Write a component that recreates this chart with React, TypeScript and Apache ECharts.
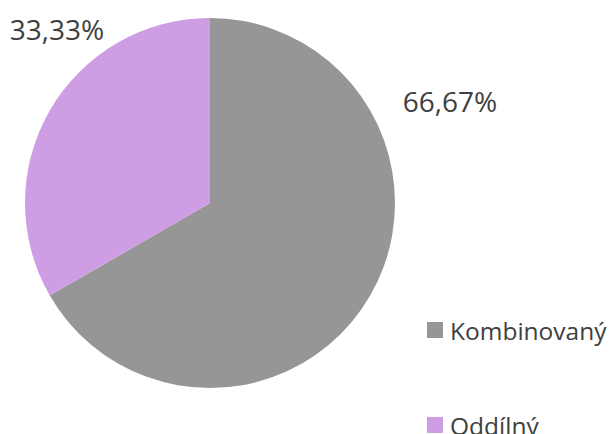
import React, { useEffect, useRef } from "react";
import * as echarts from "echarts";

const categories = ["Kombinovaný", "Oddílný"];
const values = [66.67, 33.33];
const colors = ["#969696", "#CF9DE3"];
const labelPositions = [
  { x: 450, y: 101 },
  { x: 57, y: 29 },
];
const legendTops = [315, 410];

export default function App() {
  const ref = useRef<HTMLDivElement>(null);
  useEffect(() => {
    document.body.style.margin = "0";
    if (!ref.current) return;
    const chart = echarts.init(ref.current, null, { renderer: "svg" });
    chart.setOption({
      animation: false,
      backgroundColor: "#ffffff",
      legend: categories.map((name, i) => ({
        orient: "vertical",
        left: 427,
        top: legendTops[i],
        icon: "rect",
        itemWidth: 16,
        itemHeight: 16,
        data: [name],
        textStyle: {
          fontFamily: "Open Sans",
          fontSize: 24.5,
          lineHeight: 30,
          color: "#404040",
          padding: [0, 0, 0, 2],
        },
        padding: 0,
      })),
      series: [
        {
          type: "pie",
          center: [210, 203],
          radius: [0, 185],
          startAngle: 90,
          clockwise: true,
          avoidLabelOverlap: false,
          data: categories.map((name, i) => ({
            name,
            value: values[i],
            itemStyle: { color: colors[i] },
          })),
          label: {
            show: true,
            position: "outside",
            formatter: (p: any) => p.value.toFixed(2).replace(".", ",") + "%",
            fontFamily: "Open Sans",
            fontSize: 28,
            color: "#404040",
          },
          labelLine: { show: false },
          labelLayout: (params: any) => ({
            x: labelPositions[params.dataIndex].x,
            y: labelPositions[params.dataIndex].y,
            align: "center",
            verticalAlign: "middle",
          }),
          emphasis: { disabled: true },
        },
      ],
    });
    return () => chart.dispose();
  }, []);
  return <div ref={ref} style={{ width: 616, height: 434 }} />;
}
